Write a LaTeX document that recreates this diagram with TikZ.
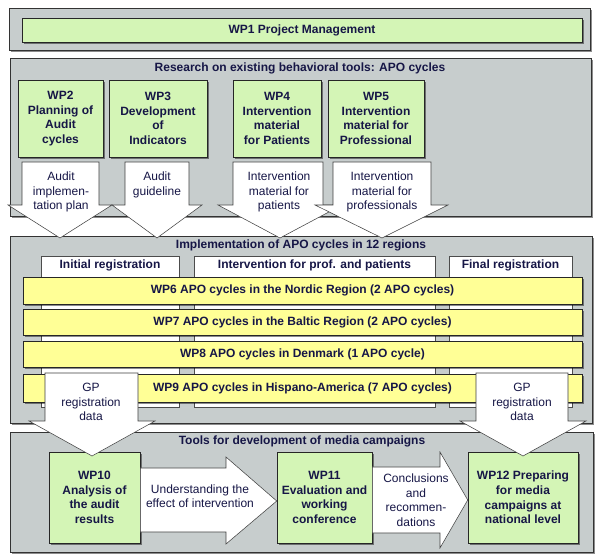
\documentclass[tikz,border=0pt]{standalone}
\usepackage{fontspec}
\setmainfont{Liberation Sans}
\usetikzlibrary{fit}
\usetikzlibrary{shadows}

\definecolor{panelgray}{RGB}{199,205,205}
\definecolor{wpgreen}{RGB}{212,245,182}
\definecolor{wpyellow}{RGB}{255,255,150}
\definecolor{navytext}{RGB}{22,22,70}

% box from its corners, in pixels of the picture
\newcommand{\wpbox}[6]{\node[#1, minimum width={(#4-#2)*0.75pt}, minimum height={(#5-#3)*0.75pt}] (#6) at ({(#2+#4)/2},{(#3+#5)/2})}

\begin{document}
\begin{tikzpicture}[x=0.75pt, y=-0.75pt,
    boxshadow/.style={drop shadow={shadow xshift=1.6pt, shadow yshift=-1.6pt, opacity=0.45, fill=black}},
    panel/.style={draw=black!80, fill=panelgray, inner sep=0pt, boxshadow},
    paneltitle/.style={font=\fontsize{9}{11}\selectfont\bfseries, text=navytext},
    wp/.style={draw=black!85, fill=wpgreen, inner sep=0pt, align=center, text=navytext,
      font=\fontsize{9}{10.9}\selectfont\bfseries, boxshadow},
    cycle/.style={wp, fill=wpyellow},
    column/.style={draw=black!70, fill=white, inner sep=0pt},
    colhead/.style={font=\fontsize{9}{11}\selectfont\bfseries, text=navytext, anchor=north, inner sep=3pt},
    blockarrow/.style={draw=black!75, fill=white, line join=miter},
    arrowtext/.style={align=center, text=navytext, font=\fontsize{9}{10.9}\selectfont}
  ]
  \useasboundingbox (0,0) rectangle (600,559);

  % panels
  \node[panel, fit={(9,8)(590,50)}] (mgmt) {};
  \node[panel, fit={(10,58)(591,216)}] (research) {};
  \node[panel, fit={(10,236)(592,423)}] (implement) {};
  \node[panel, fit={(10,432)(593,552)}] (media) {};

  \node[paneltitle] (researchtitle) at (300,68) {Research  on existing behavioral tools: APO cycles};
  \node[paneltitle] (implementtitle) at (301,245) {Implementation of APO cycles  in 12 regions};
  \node[paneltitle] (mediatitle) at (302,441) {Tools for  development of media campaigns};

  % project management
  \wpbox{wp}{22}{18}{582}{42}{wp1} {WP1 Project Management};

  % research work packages
  \wpbox{wp}{18}{80}{103}{157}{wp2} {WP2\\Planning of\\Audit\\cycles};
  \wpbox{wp}{109}{80}{207}{157}{wp3} {WP3\\Development\\of\\Indicators};
  \wpbox{wp}{233}{80}{321}{157}{wp4} {WP4\\Intervention\\material\\for Patients};
  \wpbox{wp}{328}{80}{424}{157}{wp5} {WP5\\Intervention\\material for\\Professional};

  % registration columns
  \node[column, fit={(41,256)(179,407)}] (initcol) {};
  \node[column, fit={(194,256)(435,407)}] (intercol) {};
  \node[column, fit={(449,256)(572,407)}] (finalcol) {};
  \node[colhead] (inithead) at (initcol.north) {Initial registration};
  \node[colhead] (interhead) at (intercol.north) {Intervention for prof. and patients};
  \node[colhead] (finalhead) at (finalcol.north) {Final registration};

  % APO cycles
  \wpbox{cycle}{23}{277}{582}{304}{wp6} {WP6 APO cycles  in the Nordic Region (2 APO cycles)};
  \wpbox{cycle}{23}{309}{582}{335}{wp7} {WP7 APO cycles  in the Baltic Region (2 APO cycles)};
  \wpbox{cycle}{23}{341}{582}{367}{wp8} {WP8 APO cycles  in Denmark  (1 APO cycle)};
  \wpbox{cycle}{23}{374}{582}{402}{wp9} {WP9 APO cycles  in Hispano-America  (7 APO cycles)};

  % media work packages
  \wpbox{wp}{49}{452}{140}{543}{wp10} {WP10\\Analysis of\\the audit\\results};
  \wpbox{wp}{277}{452}{372}{543}{wp11} {WP11\\Evaluation and\\working\\conference};
  \wpbox{wp}{468}{452}{578}{543}{wp12} {WP12 Preparing\\for media\\campaigns at\\national level};

  % outputs of research
  \draw[blockarrow] (22,162) -- (99,162) -- (99,205) -- (112,205) -- (60,238) -- (8,205) -- (22,205) -- cycle;
  \draw[blockarrow] (125,162) -- (189,162) -- (189,205) -- (202,205) -- (157,238) -- (112,205) -- (125,205) -- cycle;
  \draw[blockarrow] (233,162) -- (323,162) -- (323,205) -- (342,205) -- (280,238) -- (218,205) -- (233,205) -- cycle;
  \draw[blockarrow] (333,162) -- (431,162) -- (431,205) -- (448,205) -- (382,238) -- (315,205) -- (333,205) -- cycle;
  \node[arrowtext] (planout) at (61,192) {Audit\\implemen-\\tation plan};
  \node[arrowtext] (guideout) at (157,185) {Audit\\guideline};
  \node[arrowtext] (patout) at (279,192) {Intervention\\material for\\patients};
  \node[arrowtext] (profout) at (382,192) {Intervention\\material for\\professionals};

  % registration data
  \draw[blockarrow] (45,373) -- (138,373) -- (138,421) -- (155,421) -- (92,456) -- (29,421) -- (45,421) -- cycle;
  \draw[blockarrow] (476,373) -- (568,373) -- (568,421) -- (586,421) -- (523,456) -- (460,421) -- (476,421) -- cycle;
  \node[arrowtext] (initdata) at (91,402) {GP\\registration\\data};
  \node[arrowtext] (finaldata) at (522,402) {GP\\registration\\data};

  % results to campaigns
  \draw[blockarrow] (wp10.east |- 0,468) -- (226,468) -- (226,457) -- (wp11.west |- 0,501) -- (226,544) -- (226,532) -- (wp10.east |- 0,532) -- cycle;
  \draw[blockarrow] (wp11.east |- 0,467) -- (440,467) -- (440,452) -- (wp12.west |- 0,500) -- (440,548) -- (440,533) -- (wp11.east |- 0,533) -- cycle;
  \node[arrowtext] (effect) at (200,496) {Understanding the\\effect of intervention};
  \node[arrowtext] (conclude) at (416,500) {Conclusions\\and\\recommen-\\dations};
\end{tikzpicture}
\end{document}
